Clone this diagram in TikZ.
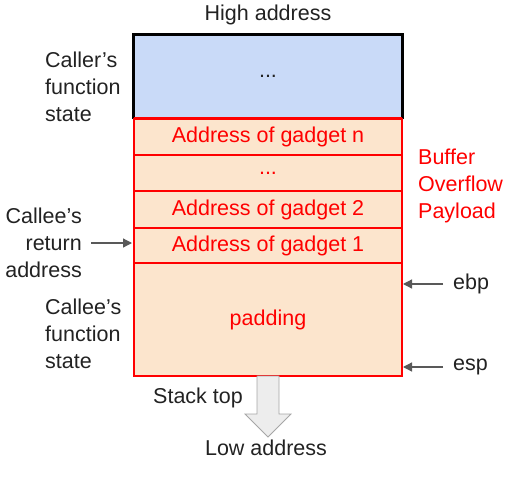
\documentclass[tikz,border=0pt]{standalone}
\usepackage{fontspec}
\setmainfont{Liberation Sans}
\usetikzlibrary{arrows.meta,positioning}
\definecolor{bluefill}{HTML}{C9DAF8}
\definecolor{orangefill}{HTML}{FCE5CD}
\definecolor{redline}{HTML}{FF0000}
\definecolor{txt}{HTML}{222222}
\definecolor{arrowgray}{HTML}{595959}
\tikzset{
  cell/.style={draw=redline, line width=2pt, fill=orangefill, text=redline, minimum width=268pt, inner sep=0pt, font=\fontsize{21.5}{27}\selectfont, anchor=north west},
  lbl/.style={text=txt, font=\fontsize{21.5}{27}\selectfont, inner sep=0pt, align=left},
  ptr/.style={draw=arrowgray, line width=1.3pt, -{Triangle[length=9pt,width=9pt]}},
}
\begin{document}
\begin{tikzpicture}[x=1pt,y=-1pt]
\useasboundingbox (0,0) rectangle (509,485);
% caller frame
\node[cell, draw=black, fill=bluefill, text=txt, minimum height=83pt] (caller) at (133,34) {...};
% payload cells
\node[cell, minimum height=37pt] (gn) at (133,117) {Address of gadget n};
\node[cell, minimum height=36pt] (gd) at (133,154) {...};
\node[cell, minimum height=37pt] (g2) at (133,190) {Address of gadget 2};
\node[cell, minimum height=35pt] (g1) at (133,227) {Address of gadget 1};
\node[cell, minimum height=113pt] (pad) at (133,262) {padding};
% redraw caller border (except bottom)
\draw[black, line width=2pt] (caller.south west) |- (caller.north east) -- (caller.south east);
\draw[redline, line width=2pt] (caller.south west) -- (caller.south east);
% texts
\node[lbl] (high) at (268,15) {High address};
\node[lbl, anchor=west] (callerlbl) at (45,87) {Caller’s\\function\\state};
\node[lbl, anchor=west, text=redline] (payload) at (418,186) {Buffer\\Overflow\\Payload};
\node[lbl, anchor=east, align=right] (retlbl) at (82,243) {Callee’s\\return\\address};
\node[lbl, anchor=west] (calleelbl) at (45,334) {Callee’s\\function\\state};
\node[lbl, anchor=west] (ebp) at (453,284) {ebp};
\node[lbl, anchor=west] (esp) at (453,367) {esp};
\node[lbl] (stacktop) at (198,398) {Stack top};
\node[lbl] (low) at (266,448) {Low address};
% pointers
\coordinate (retarr) at (132,243);
\coordinate (ebparr) at (403,284);
\coordinate (esparr) at (403,367);
\draw[ptr] (retlbl.east) ++(9pt,0) -- (retarr);
\draw[ptr] (ebp.west) ++(-10pt,0) -- (ebparr);
\draw[ptr] (esp.west) ++(-10pt,0) -- (esparr);
% big growth arrow
\draw[draw=gray!70, fill=black!7, line width=0.8pt, line join=miter]
  (257,376) -- (279,376) -- (279,414) -- (291,414) -- (268,437) -- (245,414) -- (257,414) -- cycle;
\end{tikzpicture}
\end{document}
